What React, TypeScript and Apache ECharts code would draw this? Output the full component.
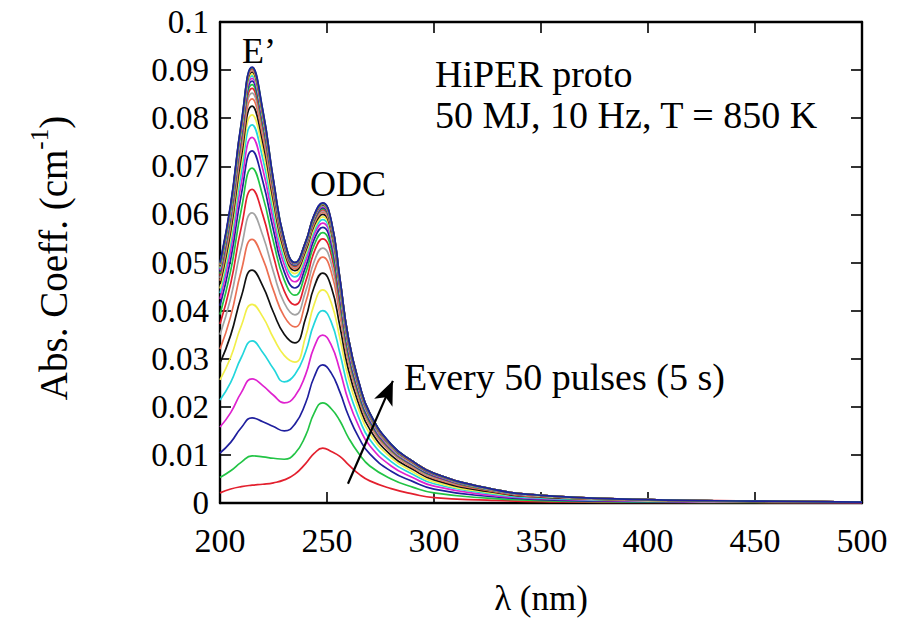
import React, { useEffect, useRef } from "react";
import * as echarts from "echarts";

// wavelengths (nm) at which the spectra were read
const LAMBDA = [200, 205, 210, 215, 220, 225, 230, 235, 240, 244, 248, 252, 256, 260, 265, 270, 280, 290, 300, 325, 350, 400, 450, 500];

// absorption coefficient (cm^-1), one spectrum every 50 pulses
const c01 = [0.0021, 0.0029, 0.0034, 0.0037, 0.0039, 0.0042, 0.0048, 0.0060, 0.0082, 0.0103, 0.0114, 0.0107, 0.0097, 0.0080, 0.0060, 0.0046, 0.0030, 0.0019, 0.0011, 0.0006, 0.0003, 0.0001, 0.0001, 0.0000];
const c02 = [0.0053, 0.0067, 0.0085, 0.0098, 0.0096, 0.0093, 0.0091, 0.0103, 0.0140, 0.0187, 0.0208, 0.0196, 0.0171, 0.0136, 0.0102, 0.0077, 0.0050, 0.0033, 0.0021, 0.0010, 0.0005, 0.0002, 0.0001, 0.0001];
const c03 = [0.0104, 0.0126, 0.0157, 0.0177, 0.0169, 0.0159, 0.0150, 0.0164, 0.0208, 0.0262, 0.0287, 0.0270, 0.0231, 0.0182, 0.0135, 0.0102, 0.0066, 0.0045, 0.0029, 0.0014, 0.0007, 0.0003, 0.0002, 0.0001];
const c04 = [0.0158, 0.0188, 0.0230, 0.0258, 0.0244, 0.0224, 0.0208, 0.0222, 0.0267, 0.0324, 0.0349, 0.0328, 0.0276, 0.0213, 0.0158, 0.0119, 0.0077, 0.0053, 0.0035, 0.0017, 0.0009, 0.0004, 0.0002, 0.0001];
const c05 = [0.0214, 0.0251, 0.0303, 0.0337, 0.0313, 0.0279, 0.0252, 0.0267, 0.0314, 0.0373, 0.0400, 0.0376, 0.0312, 0.0238, 0.0176, 0.0132, 0.0086, 0.0060, 0.0040, 0.0020, 0.0010, 0.0005, 0.0003, 0.0002];
const c06 = [0.0256, 0.0303, 0.0369, 0.0413, 0.0387, 0.0343, 0.0307, 0.0293, 0.0346, 0.0413, 0.0443, 0.0416, 0.0343, 0.0260, 0.0192, 0.0144, 0.0094, 0.0065, 0.0044, 0.0022, 0.0012, 0.0005, 0.0003, 0.0002];
const c07 = [0.0291, 0.0349, 0.0430, 0.0484, 0.0451, 0.0396, 0.0351, 0.0333, 0.0384, 0.0449, 0.0478, 0.0449, 0.0368, 0.0277, 0.0204, 0.0153, 0.0099, 0.0070, 0.0048, 0.0024, 0.0012, 0.0006, 0.0003, 0.0002];
const c08 = [0.0320, 0.0388, 0.0484, 0.0548, 0.0508, 0.0442, 0.0388, 0.0366, 0.0417, 0.0482, 0.0511, 0.0480, 0.0391, 0.0293, 0.0214, 0.0161, 0.0105, 0.0074, 0.0051, 0.0026, 0.0013, 0.0006, 0.0004, 0.0002];
const c09 = [0.0350, 0.0426, 0.0532, 0.0603, 0.0556, 0.0480, 0.0416, 0.0391, 0.0440, 0.0502, 0.0530, 0.0498, 0.0403, 0.0299, 0.0219, 0.0164, 0.0107, 0.0076, 0.0053, 0.0027, 0.0014, 0.0006, 0.0004, 0.0002];
const c10 = [0.0372, 0.0456, 0.0574, 0.0652, 0.0599, 0.0513, 0.0441, 0.0412, 0.0460, 0.0522, 0.0549, 0.0516, 0.0414, 0.0306, 0.0223, 0.0167, 0.0109, 0.0078, 0.0055, 0.0027, 0.0014, 0.0007, 0.0004, 0.0002];
const c11 = [0.0392, 0.0483, 0.0611, 0.0696, 0.0638, 0.0543, 0.0464, 0.0432, 0.0478, 0.0536, 0.0562, 0.0528, 0.0422, 0.0309, 0.0225, 0.0169, 0.0110, 0.0079, 0.0056, 0.0028, 0.0015, 0.0007, 0.0004, 0.0002];
const c12 = [0.0410, 0.0507, 0.0642, 0.0732, 0.0669, 0.0567, 0.0481, 0.0447, 0.0491, 0.0548, 0.0573, 0.0539, 0.0430, 0.0315, 0.0229, 0.0172, 0.0112, 0.0080, 0.0057, 0.0029, 0.0015, 0.0007, 0.0004, 0.0002];
const c13 = [0.0424, 0.0525, 0.0666, 0.0760, 0.0694, 0.0586, 0.0496, 0.0460, 0.0503, 0.0558, 0.0582, 0.0547, 0.0437, 0.0320, 0.0233, 0.0175, 0.0113, 0.0081, 0.0058, 0.0029, 0.0015, 0.0007, 0.0004, 0.0002];
const c14 = [0.0436, 0.0541, 0.0688, 0.0786, 0.0716, 0.0603, 0.0508, 0.0470, 0.0512, 0.0565, 0.0589, 0.0554, 0.0442, 0.0324, 0.0236, 0.0177, 0.0115, 0.0082, 0.0059, 0.0029, 0.0015, 0.0007, 0.0004, 0.0002];
const c15 = [0.0446, 0.0554, 0.0706, 0.0807, 0.0734, 0.0616, 0.0517, 0.0477, 0.0518, 0.0571, 0.0595, 0.0559, 0.0446, 0.0327, 0.0238, 0.0179, 0.0116, 0.0083, 0.0060, 0.0030, 0.0015, 0.0007, 0.0004, 0.0002];
const c16 = [0.0455, 0.0566, 0.0721, 0.0825, 0.0750, 0.0627, 0.0524, 0.0483, 0.0524, 0.0577, 0.0600, 0.0564, 0.0450, 0.0330, 0.0240, 0.0180, 0.0117, 0.0084, 0.0060, 0.0030, 0.0016, 0.0007, 0.0004, 0.0002];
const c17 = [0.0462, 0.0575, 0.0734, 0.0840, 0.0762, 0.0635, 0.0529, 0.0487, 0.0528, 0.0581, 0.0604, 0.0568, 0.0453, 0.0332, 0.0242, 0.0181, 0.0118, 0.0085, 0.0060, 0.0030, 0.0016, 0.0007, 0.0004, 0.0002];
const c18 = [0.0468, 0.0583, 0.0744, 0.0852, 0.0772, 0.0642, 0.0533, 0.0490, 0.0531, 0.0584, 0.0607, 0.0571, 0.0455, 0.0334, 0.0243, 0.0182, 0.0118, 0.0085, 0.0061, 0.0030, 0.0016, 0.0007, 0.0004, 0.0002];
const c19 = [0.0473, 0.0590, 0.0753, 0.0862, 0.0781, 0.0647, 0.0536, 0.0492, 0.0533, 0.0586, 0.0610, 0.0573, 0.0458, 0.0336, 0.0244, 0.0183, 0.0119, 0.0085, 0.0061, 0.0031, 0.0016, 0.0007, 0.0004, 0.0002];
const c20 = [0.0477, 0.0595, 0.0760, 0.0870, 0.0787, 0.0652, 0.0539, 0.0494, 0.0535, 0.0588, 0.0612, 0.0575, 0.0459, 0.0337, 0.0245, 0.0184, 0.0119, 0.0086, 0.0061, 0.0031, 0.0016, 0.0007, 0.0004, 0.0002];
const c21 = [0.0481, 0.0600, 0.0766, 0.0877, 0.0793, 0.0655, 0.0541, 0.0495, 0.0537, 0.0590, 0.0614, 0.0577, 0.0461, 0.0338, 0.0246, 0.0184, 0.0120, 0.0086, 0.0061, 0.0031, 0.0016, 0.0007, 0.0004, 0.0002];
const c22 = [0.0484, 0.0604, 0.0771, 0.0883, 0.0798, 0.0659, 0.0542, 0.0496, 0.0538, 0.0592, 0.0616, 0.0579, 0.0462, 0.0339, 0.0246, 0.0185, 0.0120, 0.0086, 0.0062, 0.0031, 0.0016, 0.0007, 0.0004, 0.0002];
const c23 = [0.0487, 0.0607, 0.0776, 0.0888, 0.0802, 0.0661, 0.0544, 0.0497, 0.0539, 0.0594, 0.0618, 0.0581, 0.0464, 0.0340, 0.0247, 0.0185, 0.0121, 0.0087, 0.0062, 0.0031, 0.0016, 0.0007, 0.0004, 0.0002];
const c24 = [0.0490, 0.0611, 0.0779, 0.0892, 0.0805, 0.0663, 0.0545, 0.0498, 0.0540, 0.0595, 0.0619, 0.0582, 0.0464, 0.0340, 0.0248, 0.0186, 0.0121, 0.0087, 0.0062, 0.0031, 0.0016, 0.0007, 0.0004, 0.0002];
const c25 = [0.0492, 0.0613, 0.0783, 0.0896, 0.0808, 0.0665, 0.0546, 0.0498, 0.0541, 0.0596, 0.0620, 0.0583, 0.0465, 0.0341, 0.0248, 0.0186, 0.0121, 0.0087, 0.0062, 0.0031, 0.0016, 0.0007, 0.0004, 0.0002];
const c26 = [0.0494, 0.0616, 0.0786, 0.0899, 0.0811, 0.0667, 0.0547, 0.0499, 0.0542, 0.0597, 0.0621, 0.0584, 0.0466, 0.0342, 0.0248, 0.0186, 0.0121, 0.0087, 0.0062, 0.0031, 0.0016, 0.0007, 0.0004, 0.0002];
const c27 = [0.0496, 0.0618, 0.0788, 0.0901, 0.0813, 0.0668, 0.0547, 0.0499, 0.0542, 0.0598, 0.0622, 0.0585, 0.0467, 0.0342, 0.0249, 0.0187, 0.0121, 0.0087, 0.0062, 0.0031, 0.0016, 0.0007, 0.0004, 0.0002];
const c28 = [0.0497, 0.0619, 0.0789, 0.0903, 0.0814, 0.0669, 0.0548, 0.0500, 0.0543, 0.0598, 0.0623, 0.0586, 0.0467, 0.0343, 0.0249, 0.0187, 0.0121, 0.0087, 0.0062, 0.0031, 0.0016, 0.0007, 0.0004, 0.0002];
const c29 = [0.0498, 0.0620, 0.0791, 0.0905, 0.0816, 0.0670, 0.0549, 0.0500, 0.0543, 0.0598, 0.0623, 0.0586, 0.0467, 0.0343, 0.0249, 0.0187, 0.0122, 0.0087, 0.0062, 0.0031, 0.0016, 0.0007, 0.0004, 0.0002];
const c30 = [0.0500, 0.0622, 0.0792, 0.0906, 0.0817, 0.0671, 0.0549, 0.0500, 0.0543, 0.0599, 0.0624, 0.0587, 0.0468, 0.0343, 0.0250, 0.0187, 0.0122, 0.0087, 0.0062, 0.0031, 0.0016, 0.0007, 0.0004, 0.0002];

const CURVES = [c01, c02, c03, c04, c05, c06, c07, c08, c09, c10, c11, c12, c13, c14, c15, c16, c17, c18, c19, c20, c21, c22, c23, c24, c25, c26, c27, c28, c29, c30];

// gnuplot-like colour cycle
const COLORS = ["#e3202e", "#22c445", "#1f1f9e", "#df22cf", "#22d6dc", "#f2ef4a", "#111111", "#ec6f52", "#a3a3a3"];

const X_TICKS = { min: 200, max: 500, interval: 50 };
const Y_TICKS = { min: 0, max: 0.1, interval: 0.01 };

// arrow "Every 50 pulses": tail and head in data units
const ARROW_FROM = [259.8, 0.0040];
const ARROW_TO = [280.8, 0.0254];

const FONT = "Liberation Serif";

export default function App() {
  const ref = useRef<HTMLDivElement>(null);

  useEffect(() => {
    if (!ref.current) return;
    const chart = echarts.init(ref.current, null, { renderer: "svg" });

    const series: any[] = CURVES.map((c, i) => ({
      type: "line",
      data: LAMBDA.map((x, j) => [x, c[j]]),
      showSymbol: false,
      symbol: "none",
      smooth: 0.5,
      lineStyle: { color: COLORS[i % COLORS.length], width: 1.7 },
      z: 2,
      silent: true,
    }));

    series.push({
      type: "line",
      data: [],
      silent: true,
      markLine: {
        silent: true,
        symbol: ["none", "arrow"],
        symbolSize: [15, 24],
        label: { show: false },
        lineStyle: { color: "#000", width: 2.2, type: "solid" },
        data: [[{ coord: ARROW_FROM }, { coord: ARROW_TO }]],
      },
      z: 5,
    });

    const fmt = (v: number) => String(Number(v.toFixed(2)));

    const baseX = {
      type: "value",
      min: X_TICKS.min,
      max: X_TICKS.max,
      interval: X_TICKS.interval,
      splitLine: { show: false },
      axisLine: { show: true, onZero: false, lineStyle: { color: "#000", width: 2.4 } },
      axisTick: { show: true, inside: true, length: 11, lineStyle: { color: "#000", width: 1.6 } },
    };
    const baseY = {
      type: "value",
      min: Y_TICKS.min,
      max: Y_TICKS.max,
      interval: Y_TICKS.interval,
      splitLine: { show: false },
      axisLine: { show: true, onZero: false, lineStyle: { color: "#000", width: 2.4 } },
      axisTick: { show: true, inside: true, length: 11, lineStyle: { color: "#000", width: 1.6 } },
    };

    chart.setOption({
      animation: false,
      backgroundColor: "#ffffff",
      grid: { left: 220, right: 44, top: 22, bottom: 116, containLabel: false },
      xAxis: [
        {
          ...baseX,
          position: "bottom",
          axisLabel: { show: true, margin: 20, color: "#000", fontSize: 34, fontFamily: FONT, formatter: (v: number) => String(v) },
        },
        { ...baseX, position: "top", axisLabel: { show: false } },
      ],
      yAxis: [
        {
          ...baseY,
          position: "left",
          axisLabel: { show: true, margin: 11, color: "#000", fontSize: 33, fontFamily: FONT, formatter: fmt },
        },
        { ...baseY, position: "right", axisLabel: { show: false } },
      ],
      series,
      graphic: [
        {
          type: "text",
          x: 541,
          y: 598,
          style: { text: "λ (nm)", fill: "#000", fontSize: 35, fontFamily: FONT, textAlign: "center", textVerticalAlign: "middle" },
        },
        {
          type: "text",
          x: 50,
          y: 258,
          rotation: Math.PI / 2,
          style: {
            text: "{a|Abs. Coeff. (cm}{s|-1}{a|)}",
            fill: "#000",
            align: "center",
            verticalAlign: "middle",
            rich: {
              a: { fontSize: 39, fontFamily: FONT, fill: "#000", lineHeight: 46, verticalAlign: "bottom" },
              s: { fontSize: 25, fontFamily: FONT, fill: "#000", lineHeight: 46, verticalAlign: "top" },
            },
          },
        },
        {
          type: "text",
          x: 259,
          y: 51,
          style: { text: "E’", fill: "#000", fontSize: 36, fontFamily: FONT, textAlign: "center", textVerticalAlign: "middle" },
        },
        {
          type: "text",
          x: 348,
          y: 184,
          style: { text: "ODC", fill: "#000", fontSize: 36, fontFamily: FONT, textAlign: "center", textVerticalAlign: "middle" },
        },
        {
          type: "text",
          x: 435,
          y: 74,
          style: { text: "HiPER proto", fill: "#000", fontSize: 38, fontFamily: FONT, textAlign: "left", textVerticalAlign: "middle" },
        },
        {
          type: "text",
          x: 435,
          y: 115,
          style: { text: "50 MJ, 10 Hz, T = 850 K", fill: "#000", fontSize: 38, fontFamily: FONT, textAlign: "left", textVerticalAlign: "middle" },
        },
        {
          type: "text",
          x: 404,
          y: 377,
          style: { text: "Every 50 pulses (5 s)", fill: "#000", fontSize: 38, fontFamily: FONT, textAlign: "left", textVerticalAlign: "middle" },
        },
      ],
    });

    return () => chart.dispose();
  }, []);

  return (
    <div
      ref={ref}
      style={{ position: "fixed", left: 0, top: 0, width: 906, height: 619, background: "#fff" }}
    />
  );
}
